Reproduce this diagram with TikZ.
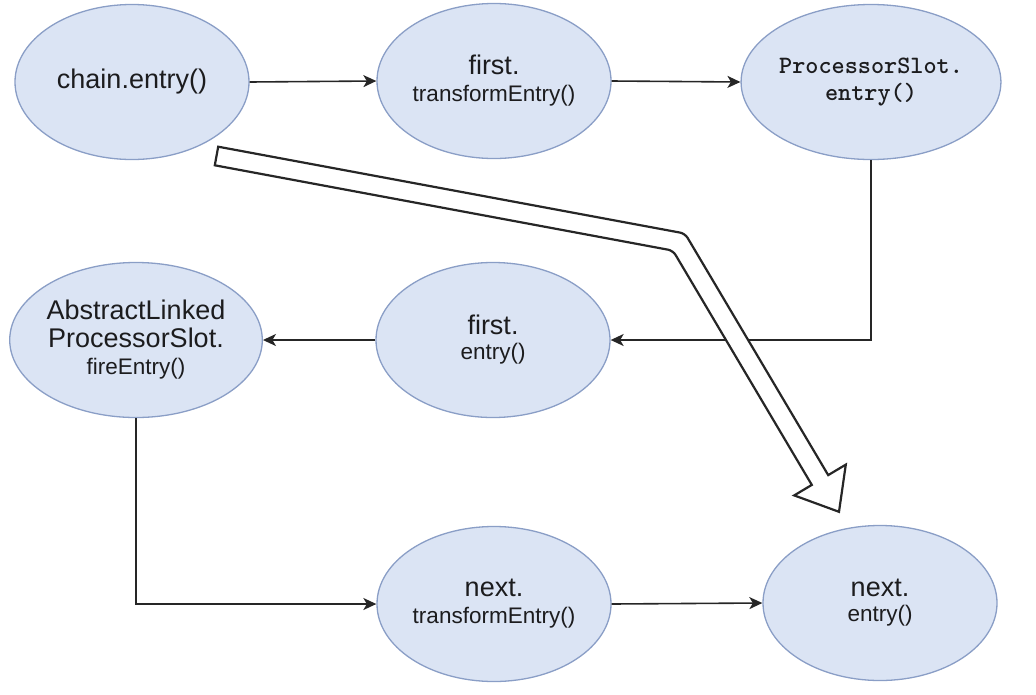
\documentclass[tikz,border=0pt]{standalone}
\usepackage{fontspec}
\setmainfont{Liberation Sans}
\usetikzlibrary{shapes.geometric,arrows.meta}
\definecolor{fillblue}{RGB}{219,228,244}
\definecolor{edgeblue}{RGB}{138,158,198}
\definecolor{txt}{RGB}{28,28,30}
\newcommand{\bigtxt}{\fontsize{27}{28}\selectfont}
\newcommand{\smtxt}{\fontsize{22.5}{26}\selectfont}
\newcommand{\montxt}{\ttfamily\bfseries\fontsize{25}{27}\selectfont}
\tikzset{
  blob/.style={ellipse, draw=edgeblue, fill=fillblue, line width=1.3pt,
    minimum width=234pt, minimum height=155pt, inner sep=0pt,
    align=center, text=txt, font=\bigtxt},
  monoblob/.style={blob, font=\montxt},
  conn/.style={draw=black!85, line width=1.6pt,
    -{Stealth[length=13pt,width=12pt,inset=3.5pt]}},
  bigarrow/.style={draw=black!85, fill=white, line width=2.2pt, line join=miter}
}
\begin{document}
\begin{tikzpicture}[x=1pt,y=-1pt]
\useasboundingbox (0,0) rectangle (1036,694);
% nodes
\node[blob] (chain) at (132,82) {chain.entry()};
\node[blob] (ft) at (494,81) {first.\\[-1pt]{\smtxt transformEntry()}};
\node[monoblob] (ps) at (871,82) {ProcessorSlot.\\entry()};
\node[blob] (al) at (136,340) {AbstractLinked\\ProcessorSlot.\\[-1pt]{\smtxt fireEntry()}};
\node[blob] (fe) at (493,340) {first.\\[-3pt]{\smtxt entry()}};
\node[blob] (nt) at (494,604) {next.\\[-1pt]{\smtxt transformEntry()}};
\node[blob] (ne) at (880,603) {next.\\[-3pt]{\smtxt entry()}};
% connectors
\draw[conn] (chain.east) -- (ft.west);
\draw[conn] (ft.east) -- (ps.west);
\draw[conn] (ps.south) |- (fe.east);
\draw[conn] (fe.west) -- (al.east);
\draw[conn] (al.south) |- (nt.west);
\draw[conn] (nt.east) -- (ne.west);
% big hollow arrow
\draw[bigarrow] (218.2,146.7) [rounded corners=5pt] -- (685,233.5) [sharp corners]
  -- (828.2,475.1) -- (845.8,464.6) -- (839,511.8) -- (794.2,495.4)
  -- (811.8,484.9) [rounded corners=5pt] -- (673,250.6) [sharp corners]
  -- (214.8,165.3) -- cycle;
\end{tikzpicture}
\end{document}
